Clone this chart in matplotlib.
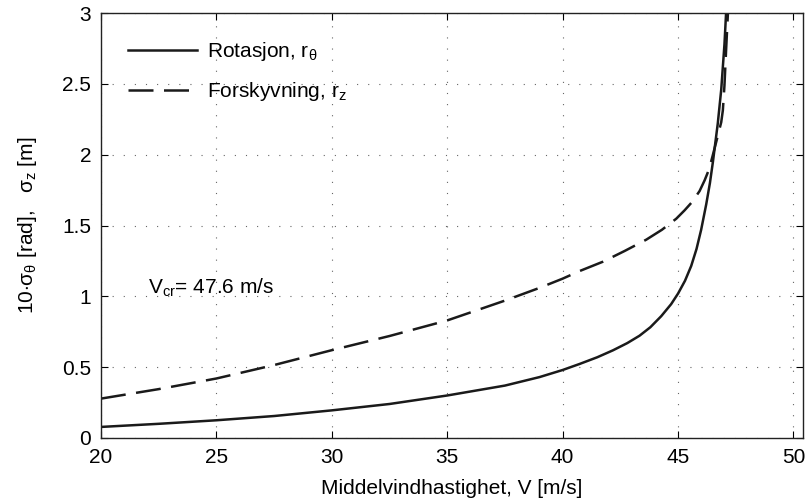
import numpy as np
import matplotlib
matplotlib.use("Agg")
import matplotlib.pyplot as plt

plt.rcParams['font.family'] = ['Liberation Sans', 'DejaVu Sans']
plt.rcParams['mathtext.fontset'] = 'custom'
plt.rcParams['mathtext.rm'] = 'Liberation Sans'
plt.rcParams['mathtext.it'] = 'Liberation Sans'
plt.rcParams['mathtext.bf'] = 'Liberation Sans'

# rotasjon, 10*sigma_theta [rad]
v_rot = [20, 22.5, 25, 27.5, 30, 32.5, 35, 37.5, 39, 40, 40.74, 41.5, 42.18,
         42.8, 43.33, 43.8, 44.27, 44.7, 45.0, 45.3, 45.57, 45.8, 46.0,
         46.22, 46.38, 46.51, 46.72, 46.87, 47.01, 47.08, 47.12]
s_rot = [0.078, 0.10, 0.125, 0.155, 0.195, 0.24, 0.30, 0.37, 0.43, 0.48,
         0.523, 0.57, 0.619, 0.67, 0.722, 0.782, 0.86, 0.945, 1.02, 1.11,
         1.215, 1.335, 1.47, 1.65, 1.80, 1.95, 2.22, 2.46, 2.78, 3.0, 3.1]

# forskyvning, sigma_z [m]
v_z = [20, 22.5, 25, 27.5, 30, 32.5, 35, 37.5, 39, 40, 40.74, 41.75, 42.68,
       43.62, 44.3, 44.92, 45.28, 45.6, 45.93, 46.15, 46.35, 46.51, 46.7,
       46.87, 46.94, 47.01, 47.08, 47.16, 47.2]
s_z = [0.278, 0.345, 0.42, 0.515, 0.62, 0.72, 0.83, 0.97, 1.06, 1.125,
       1.179, 1.245, 1.32, 1.40, 1.47, 1.548, 1.607, 1.665, 1.743, 1.819,
       1.9, 2.0, 2.12, 2.23, 2.313, 2.49, 2.736, 3.0, 3.1]

v_cr = 47.6

fig = plt.figure(figsize=(8.1, 5.04), dpi=100)
ax = fig.add_axes([0.1247, 0.131, 0.8663, 0.843])

ax.plot(v_rot, s_rot, color='#1a1a1a', lw=1.8, solid_joinstyle='round',
        label=r'Rotasjon, r$_\theta$')
ax.plot(v_z, s_z, color='#1a1a1a', lw=1.8, dashes=(10, 4.2),
        dash_joinstyle='round', label=r'Forskyvning, r$_z$')

ax.set_xlim(20, 50.4)
ax.set_ylim(0, 3)
ax.set_xticks([20, 25, 30, 35, 40, 45, 50])
ax.set_yticks([0, 0.5, 1, 1.5, 2, 2.5, 3])
ax.set_yticklabels(['0', '0.5', '1', '1.5', '2', '2.5', '3'])
ax.grid(True, linestyle=(0, (1, 9)), color='#666666', lw=0.8)
ax.tick_params(direction='in', top=True, right=True, length=5,
               labelsize=15, width=0.8, pad=7)
for s in ax.spines.values():
    s.set_linewidth(1.0)
    s.set_color('#222222')

ax.set_xlabel('Middelvindhastighet, V [m/s]', fontsize=15, labelpad=9)
ax.set_ylabel(r'10$\cdot\sigma_\theta$ [rad],   $\sigma_z$ [m]', fontsize=15,
              labelpad=17)

ax.text(22.03, 1.02, r'V$_{cr}$= %.1f m/s' % v_cr, fontsize=15,
        ha='left', va='baseline')

leg = ax.legend(loc='upper left', frameon=False, fontsize=15,
                handlelength=3.3, handletextpad=0.5, labelspacing=0.8,
                borderaxespad=0.9)

fig.savefig('out.png', dpi=100)
